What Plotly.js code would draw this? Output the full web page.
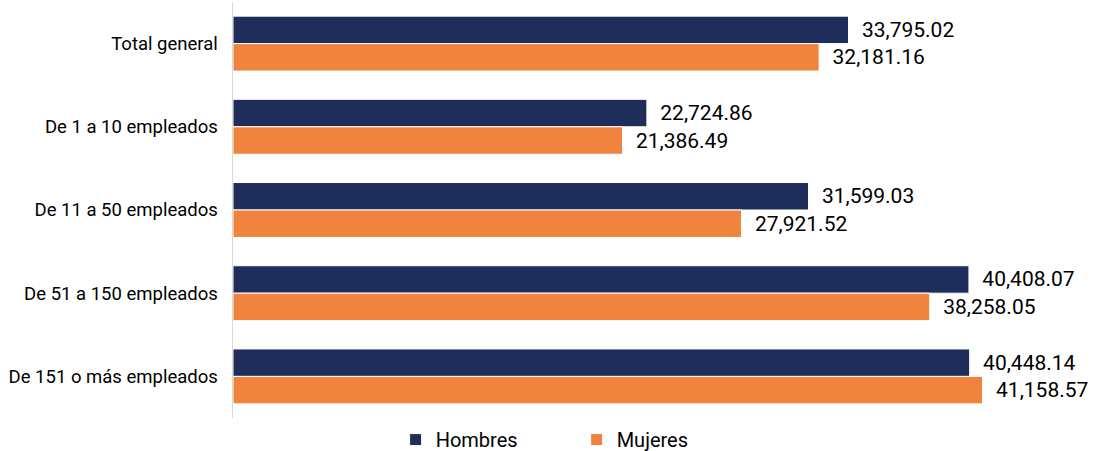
<!DOCTYPE html>
<html>
<head>
<meta charset="utf-8">
<script src="https://cdn.plot.ly/plotly-3.0.1.min.js"></script>
<style>html,body{margin:0;padding:0;background:#fff;}#chart{width:1093px;height:451px;}</style>
</head>
<body>
<div id="chart"></div>
<script>
const categories = ["Total general", "De 1 a 10 empleados", "De 11 a 50 empleados", "De 51 a 150 empleados", "De 151 o más empleados"];
const hombres = [33795.02, 22724.86, 31599.03, 40408.07, 40448.14];
const mujeres = [32181.16, 21386.49, 27921.52, 38258.05, 41158.57];
const seriesNames = ["Hombres", "Mujeres"];

const fmt = v => v.toLocaleString("en-US", {minimumFractionDigits: 2, maximumFractionDigits: 2});

const common = {
  type: "bar",
  orientation: "h",
  y: categories,
  textposition: "outside",
  cliponaxis: false,
  textfont: {family: "Roboto, sans-serif", size: 21, color: "#000"},
  hoverinfo: "skip"
};

const data = [
  Object.assign({}, common, {
    name: seriesNames[0], x: hombres, text: hombres.map(v => "  " + fmt(v)),
    marker: {color: "#1f2d5a", line: {color: "#ffffff", width: 1}}
  }),
  Object.assign({}, common, {
    name: seriesNames[1], x: mujeres, text: mujeres.map(v => "  " + fmt(v)),
    marker: {color: "#f0843e", line: {color: "#ffffff", width: 1}}
  })
];

const layout = {
  width: 1093, height: 451,
  margin: {l: 233, r: 4, t: 2, b: 33, autoexpand: false},
  barmode: "group",
  bargap: 0.34,
  bargroupgap: 0,
  paper_bgcolor: "#fff",
  plot_bgcolor: "#fff",
  font: {family: "Roboto, sans-serif", color: "#000"},
  xaxis: {range: [0, 47000], visible: false, showgrid: false, zeroline: false},
  yaxis: {
    autorange: "reversed",
    showline: true, linecolor: "#d9d9d9", linewidth: 1.5,
    ticks: "", ticklabelstandoff: 10,
    tickfont: {family: "Roboto, sans-serif", size: 18.5, color: "#000"},
    showgrid: false, zeroline: false
  },
  showlegend: true,
  legend: {
    orientation: "h", x: 0.19, xanchor: "left", y: -0.005, yanchor: "top",
    font: {family: "Roboto, sans-serif", size: 20, color: "#000"},
    entrywidth: 136, entrywidthmode: "pixels", itemwidth: 30, traceorder: "normal"
  }
};

Plotly.newPlot("chart", data, layout, {staticPlot: true, displayModeBar: false});
</script>
</body>
</html>
